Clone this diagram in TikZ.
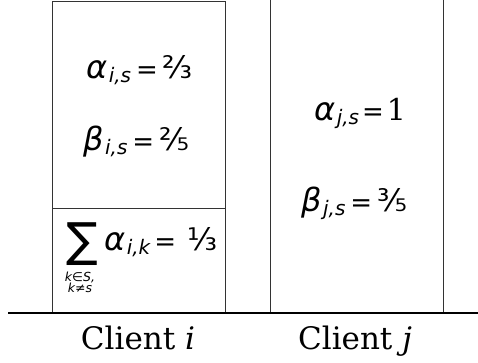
\documentclass[tikz,border=0pt]{standalone}
\usepackage{fontspec}
\newfontfamily\dvs{DejaVu Sans}
\newfontfamily\dvserif{DejaVu Serif}
\newcommand\gk[1]{{\fontsize{32}{32}\selectfont\itshape #1}}
\newcommand\msub[1]{\hspace{1.5pt}\raisebox{-0.42em}{\fontsize{20}{20}\selectfont\itshape #1}}
\newcommand\eqs{\hspace{5pt}{\fontsize{26}{26}\selectfont=}\hspace{5pt}}
\newcommand\fr[1]{{\fontsize{31}{31}\selectfont #1}}
\tikzset{
  box/.style={draw=black!80, line width=0.9pt},
  eq/.style={inner sep=0pt, anchor=base west, font=\dvs},
  lbl/.style={inner sep=0pt, anchor=base, font=\dvserif\fontsize{31}{31}\selectfont},
}
\begin{document}
\begin{tikzpicture}[x=1pt,y=-1pt]
\useasboundingbox (0,0) rectangle (478,362);
% boxes
\draw[box] (52,313) -- (52,1) -- (225,1) -- (225,313);
\draw[box] (52,208) -- (225,208);
\draw[box] (270,313) -- (270,-2);
\draw[box] (443,313) -- (443,-2);
% ground line
\draw[line width=1.6pt] (8,313) -- (478,313);
% equations
\node[eq] (ai) at (86,78) {\gk{α}\msub{i,s}\eqs\fr{⅔}};
\node[eq] (bi) at (83,150) {\gk{β}\msub{i,s}\eqs\fr{⅖}};
\node[eq] (aj) at (314,120) {\gk{α}\msub{j,s}\hspace{-2pt}\eqs\hspace{-2pt}{\dvserif\fontsize{30}{30}\selectfont 1}};
\node[eq] (bj) at (301,211) {\gk{β}\msub{j,s}\eqs\fr{⅗}};
\node[inner sep=0pt] (sum) at (82,244) {\dvs\fontsize{47}{47}\selectfont ∑};
\node[eq] (ak) at (104,250) {\gk{α}\msub{i,k}\hspace{-1pt}\eqs\hspace{6pt}\fr{⅓}};
\node[inner sep=0pt] (lim) at (80,284) {\dvs\itshape\fontsize{12.5}{13}\selectfont\begin{tabular}{@{}c@{}}k∈S,\\[-2pt]k≠s\end{tabular}};
% labels
\node[lbl] (ci) at (138,349) {Client \textit{i}};
\node[lbl] (cj) at (355,349) {Client \textit{j}};
\end{tikzpicture}
\end{document}
